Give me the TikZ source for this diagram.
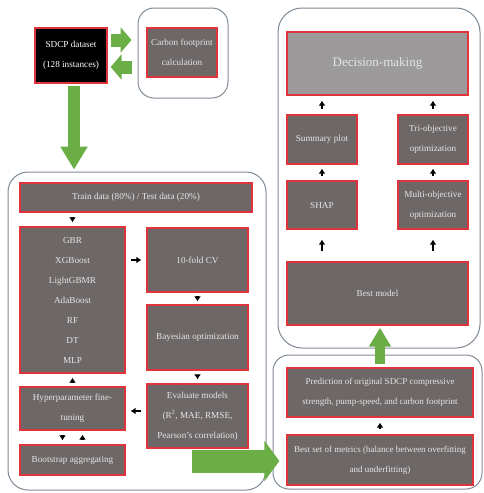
\documentclass[tikz,border=0pt]{standalone}
\usepackage{fontspec}
\setmainfont{Liberation Serif}
\usepackage{xcolor}
\usetikzlibrary{arrows.meta, calc}

\definecolor{boxgrey}{HTML}{6E6767}
\definecolor{headgrey}{HTML}{9C9A9B}
\definecolor{boxred}{HTML}{E0343C}
\definecolor{flowgreen}{HTML}{6AAE45}
\definecolor{framegrey}{HTML}{7F8A95}

\tikzset{
	stage/.style = {draw = boxred, fill = boxgrey, line width = 1.3pt, text = white!90!black,
		align = center, inner sep = 1pt, font = \fontsize{9.2}{20}\selectfont},
	frame/.style = {draw = framegrey, line width = 1pt, rounded corners = 16pt},
	flow/.style = {-{Latex[length=5pt,width=7pt]}, line width = 2.2pt},
	bigflow/.style = {draw = flowgreen},
}

\begin{document}
\begin{tikzpicture}[x = 1pt, y = -1pt]
	\useasboundingbox (0,0) rectangle (483,493);
	
	% frames
	\node [frame, minimum width = 90pt, minimum height = 90pt] (carbonframe) at (183,53) {};
	\node [frame, minimum width = 202pt, minimum height = 340pt, rounded corners = 24pt] (topframe) at (379,178) {};
	\node [frame, minimum width = 209pt, minimum height = 134pt] (predframe) at (377.5,422) {};
	\node [frame, minimum width = 258pt, minimum height = 318pt, rounded corners = 20pt] (trainframe) at (137,331) {};
	
	% data
	\node [stage, fill = black, text = white, minimum width = 72pt, minimum height = 55pt] (sdcp) at (71,55.5) {SDCP dataset\\(128 instances)};
	\node [stage, minimum width = 70pt, minimum height = 49pt] (carbon) at (182,52.5) {Carbon footprint\\calculation};
	
	% decision side
	\node [stage, fill = headgrey, minimum width = 181pt, minimum height = 63pt, font = \fontsize{13}{15}\selectfont] (decision) at (377.5,63.5) {Decision-making};
	\node [stage, minimum width = 70pt, minimum height = 49pt] (summary) at (322,139.5) {Summary plot};
	\node [stage, minimum width = 70pt, minimum height = 49pt] (triobj) at (433,139.5) {Tri-objective\\optimization};
	\node [stage, minimum width = 70pt, minimum height = 48pt] (shap) at (322,205) {SHAP};
	\node [stage, minimum width = 70pt, minimum height = 48pt] (multiobj) at (433,205) {Multi-objective\\optimization};
	\node [stage, minimum width = 181pt, minimum height = 63pt] (bestmodel) at (377.5,293.5) {Best model};
	
	% prediction
	\node [stage, minimum width = 186pt, minimum height = 49pt, font = \fontsize{9}{20}\selectfont] (pred) at (380,392.5) {Prediction of original SDCP compressive\\strength, pump-speed, and carbon footprint};
	\node [stage, minimum width = 186pt, minimum height = 50pt, font = \fontsize{9}{20}\selectfont] (bestset) at (380,460) {Best set of metrics (balance between overfitting\\and underfitting)};
	
	% training
	\node [stage, minimum width = 232pt, minimum height = 29pt] (split) at (136,197.5) {Train data (80\%) / Test data (20\%)};
	\node [stage, minimum width = 105pt, minimum height = 146pt] (models) at (72.5,300) {GBR\\XGBoost\\LightGBMR\\AdaBoost\\RF\\DT\\MLP};
	\node [stage, minimum width = 101pt, minimum height = 64pt] (cv) at (197.5,260) {10-fold CV};
	\node [stage, minimum width = 101pt, minimum height = 65pt] (bayes) at (197.5,337.5) {Bayesian optimization};
	\node [stage, minimum width = 101pt, minimum height = 64pt] (evaluate) at (197.5,416) {Evaluate models\\(R\textsuperscript{2}, MAE, RMSE,\\Pearson's correlation)};
	\node [stage, minimum width = 105pt, minimum height = 43pt] (hyper) at (72.5,408.5) {Hyperparameter fine-\\tuning};
	\node [stage, minimum width = 105pt, minimum height = 30pt] (bootstrap) at (72.5,460) {Bootstrap aggregating};
	
	% green arrows
	\draw [bigflow, line width = 13pt, arrows = {-Triangle[length=11pt,width=25pt]}]
		([xshift = 3pt, yshift = 15.5pt]sdcp.east) -- ([xshift = -6pt, yshift = 15.5pt]sdcp.east -| carbonframe.west);
	\draw [bigflow, line width = 13pt, arrows = {-Triangle[length=11pt,width=25pt]}]
		([xshift = -6pt, yshift = -11.5pt]sdcp.east -| carbonframe.west) -- ([xshift = 3pt, yshift = -11.5pt]sdcp.east);
	\draw [bigflow, line width = 12pt, arrows = {-Triangle[length=23pt,width=26pt]}]
		([xshift = 3pt, yshift = -2pt]sdcp.south) -- ([xshift = 3pt, yshift = 2pt]sdcp.south |- trainframe.north);
	\draw [bigflow, line width = 10pt, arrows = {-Triangle[length=19pt,width=21pt]}]
		([yshift = 3pt]pred.north) -- ([yshift = -2pt]pred.north |- bestmodel.south);
	\coordinate (greenstart) at (192,461);
	\draw [bigflow, line width = 23pt, arrows = {-Triangle[length=15pt,width=40pt]}]
		(greenstart) -- ([xshift = -7pt]greenstart -| bestset.west);
	
	% black arrows
	\draw [flow, shorten < = 4pt, shorten > = 4pt] (models.north |- split.south) -- (models.north);
	\draw [flow, shorten < = 5pt, shorten > = 5pt] (cv.west -| models.east) -- (cv.west);
	\draw [flow, shorten < = 3pt, shorten > = 3pt] (cv.south) -- (bayes.north);
	\draw [flow, shorten < = 4pt, shorten > = 4pt] (bayes.south) -- (evaluate.north);
	\draw [flow, shorten < = 5pt, shorten > = 5pt] ([yshift = 5pt]evaluate.west) -- ([yshift = 5pt]evaluate.west -| hyper.east);
	\draw [flow, shorten < = 4pt, shorten > = 4pt] (hyper.north) -- (models.south);
	\draw [flow, shorten < = 4pt, shorten > = 4pt] ([xshift = -10pt]hyper.south) -- ([xshift = -10pt]bootstrap.north);
	\draw [flow, shorten < = 4pt, shorten > = 4pt] ([xshift = 10pt]bootstrap.north) -- ([xshift = 10pt]hyper.south);
	
	\draw [flow, shorten < = 5pt, shorten > = 5pt] (bestset.north) -- (pred.south);
	\draw [flow, shorten < = 10pt, shorten > = 10pt] (bestmodel.north -| shap.south) -- (shap.south);
	\draw [flow, shorten < = 10pt, shorten > = 10pt] (bestmodel.north -| multiobj.south) -- (multiobj.south);
	\draw [flow, shorten < = 4pt, shorten > = 4pt] (shap.north) -- (summary.south);
	\draw [flow, shorten < = 4pt, shorten > = 4pt] (multiobj.north) -- (triobj.south);
	\draw [flow, shorten < = 5pt, shorten > = 5pt] (summary.north) -- (summary.north |- decision.south);
	\draw [flow, shorten < = 5pt, shorten > = 5pt] (triobj.north) -- (triobj.north |- decision.south);
\end{tikzpicture}
\end{document}
